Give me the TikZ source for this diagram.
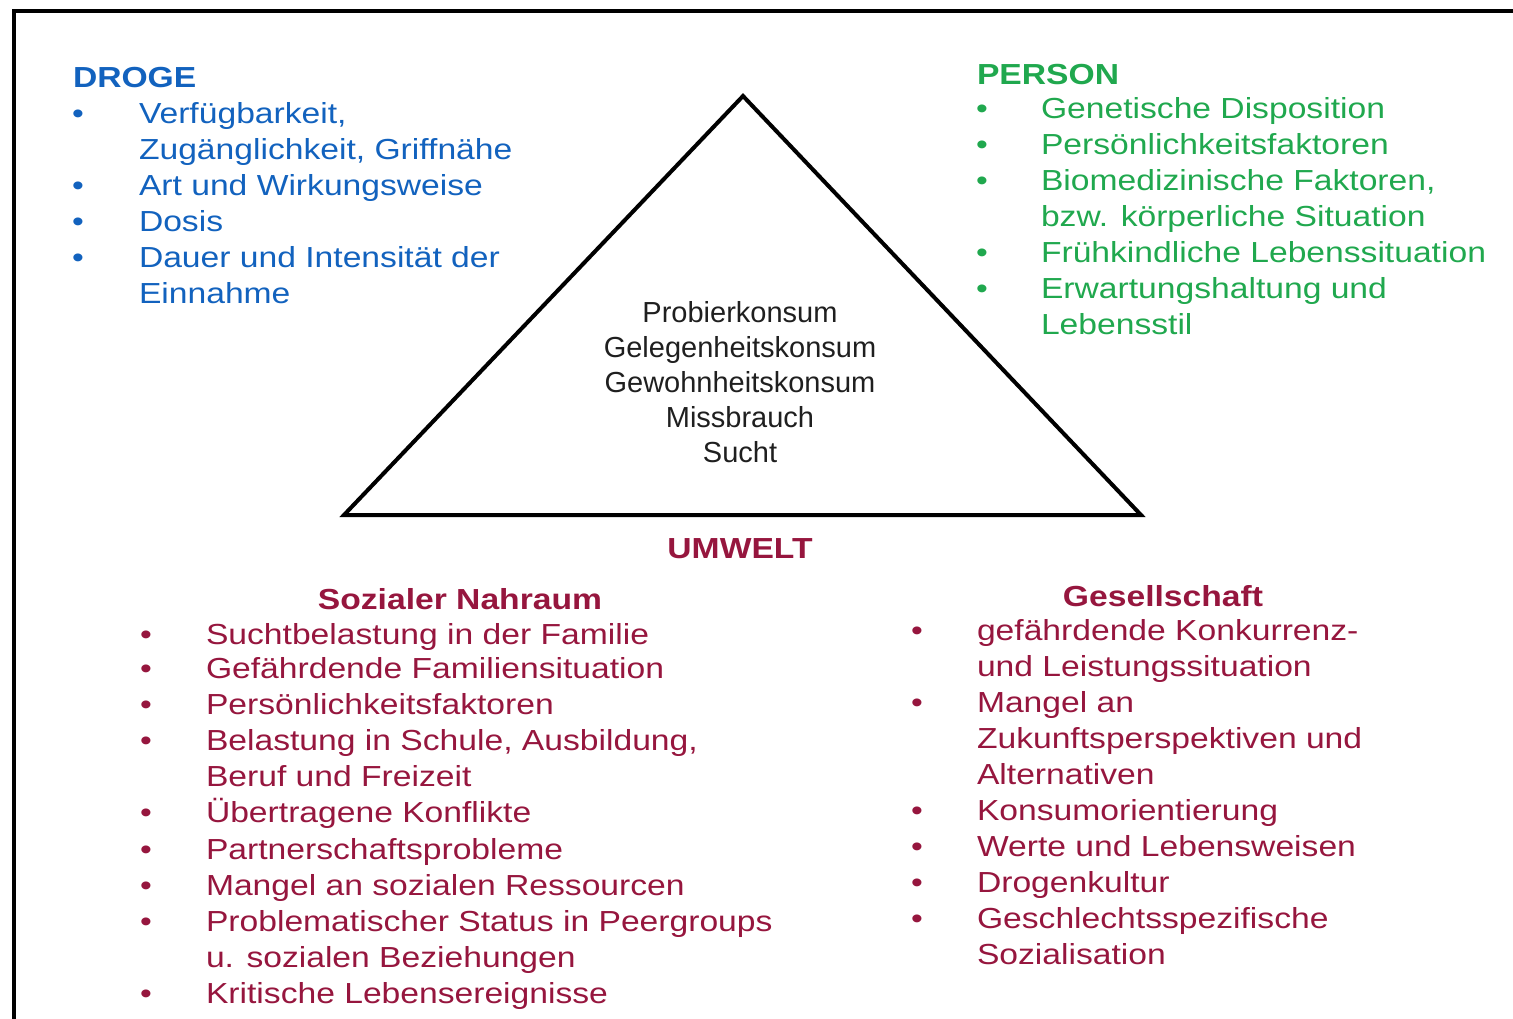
\documentclass[tikz,border=0pt]{standalone}
\usepackage{fontspec}
\setmainfont{Liberation Sans}
\newfontfamily\itemfamily{Liberation Sans}[FakeStretch=1.16]
\newcommand\itemfont{\itemfamily\fontsize{29}{36}\selectfont}
\newcommand\headfont{\itemfamily\bfseries\fontsize{29}{36}\selectfont}
\newcommand\midfont{\rmfamily\fontsize{29}{35}\selectfont}
\definecolor{drogeblue}{RGB}{18,98,190}
\definecolor{persongreen}{RGB}{32,168,78}
\definecolor{umweltred}{RGB}{150,22,62}
\tikzset{
  txt/.style={inner sep=0pt, outer sep=0pt, anchor=base west, font=\itemfont},
  bul/.style={inner sep=0pt, outer sep=0pt, anchor=base, font=\itemfont},
  hdw/.style={inner sep=0pt, outer sep=0pt, anchor=base west, font=\headfont},
  hdc/.style={inner sep=0pt, outer sep=0pt, anchor=base, font=\headfont},
  mid/.style={inner sep=0pt, outer sep=0pt, anchor=base, font=\midfont, text=black!88},
  frame/.style={line width=4pt, draw=black},
  tri/.style={line width=4pt, draw=black, line join=miter},
}
\begin{document}
\begin{tikzpicture}[x=1pt, y=-1pt]
\useasboundingbox (0,0) rectangle (1513,1018);
\clip (0,0) rectangle (1513,1018);
% frame
\coordinate (ftl) at (13.5,11);
\coordinate (fbr) at (1540,1045);
\draw[frame] (ftl) rectangle (fbr);
% triangle
\coordinate (apex) at (743,96);
\coordinate (bl) at (344,515);
\coordinate (br) at (1141,515);
\draw[tri] (apex) -- (bl) -- (br) -- cycle;

% DROGE
\begin{scope}[every node/.append style={text=drogeblue}]
\node[hdw] (dh) at (73,87) {DROGE};
\node[bul] (db1) at (78,123) {•};
\node[txt] (dt1) at (139,123) {Verfügbarkeit,};
\node[txt] (dt1b) at (139,159) {Zugänglichkeit, Griffnähe};
\node[bul] (db2) at (78,195) {•};
\node[txt] (dt2) at (139,195) {Art und Wirkungsweise};
\node[bul] (db3) at (78,231) {•};
\node[txt] (dt3) at (139,231) {Dosis};
\node[bul] (db4) at (78,267) {•};
\node[txt] (dt4) at (139,267) {Dauer und Intensität der};
\node[txt] (dt4b) at (139,303) {Einnahme};
\end{scope}

% PERSON
\begin{scope}[every node/.append style={text=persongreen}]
\node[hdw] (ph) at (977,84) {PERSON};
\node[bul] (pb1) at (982,118) {•};
\node[txt] (pt1) at (1041,118) {Genetische Disposition};
\node[bul] (pb2) at (982,154) {•};
\node[txt] (pt2) at (1041,154) {Persönlichkeitsfaktoren};
\node[bul] (pb3) at (982,190) {•};
\node[txt] (pt3) at (1041,190) {Biomedizinische Faktoren,};
\node[txt] (pt3b) at (1041,226) {bzw. körperliche Situation};
\node[bul] (pb4) at (982,262) {•};
\node[txt] (pt4) at (1041,262) {Frühkindliche Lebenssituation};
\node[bul] (pb5) at (982,298) {•};
\node[txt] (pt5) at (1041,298) {Erwartungshaltung und};
\node[txt] (pt5b) at (1041,334) {Lebensstil};
\end{scope}

% centre
\node[mid] (m1) at (740,322) {Probierkonsum};
\node[mid] (m2) at (740,357) {Gelegenheitskonsum};
\node[mid] (m3) at (740,392) {Gewohnheitskonsum};
\node[mid] (m4) at (740,427) {Missbrauch};
\node[mid] (m5) at (740,462) {Sucht};

% UMWELT
\begin{scope}[every node/.append style={text=umweltred}]
\node[hdc] (uh) at (740,558) {UMWELT};
\node[hdc] (sh) at (460,609) {Sozialer Nahraum};
\node[bul] (sb1) at (146,644) {•};
\node[txt] (st1) at (206,644) {Suchtbelastung in der Familie};
\node[bul] (sb2) at (146,678) {•};
\node[txt] (st2) at (206,678) {Gefährdende Familiensituation};
\node[bul] (sb3) at (146,714) {•};
\node[txt] (st3) at (206,714) {Persönlichkeitsfaktoren};
\node[bul] (sb4) at (146,750) {•};
\node[txt] (st4) at (206,750) {Belastung in Schule, Ausbildung,};
\node[txt] (st4b) at (206,786) {Beruf und Freizeit};
\node[bul] (sb5) at (146,822) {•};
\node[txt] (st5) at (206,822) {Übertragene Konflikte};
\node[bul] (sb6) at (146,859) {•};
\node[txt] (st6) at (206,859) {Partnerschaftsprobleme};
\node[bul] (sb7) at (146,895) {•};
\node[txt] (st7) at (206,895) {Mangel an sozialen Ressourcen};
\node[bul] (sb8) at (146,931) {•};
\node[txt] (st8) at (206,931) {Problematischer Status in Peergroups};
\node[txt] (st8b) at (206,967) {u. sozialen Beziehungen};
\node[bul] (sb9) at (146,1003) {•};
\node[txt] (st9) at (206,1003) {Kritische Lebensereignisse};

\node[hdc] (gh) at (1163,606) {Gesellschaft};
\node[bul] (gb1) at (917,640) {•};
\node[txt] (gt1) at (977,640) {gefährdende Konkurrenz-};
\node[txt] (gt1b) at (977,676) {und Leistungssituation};
\node[bul] (gb2) at (917,712) {•};
\node[txt] (gt2) at (977,712) {Mangel an};
\node[txt] (gt2b) at (977,748) {Zukunftsperspektiven und};
\node[txt] (gt2c) at (977,784) {Alternativen};
\node[bul] (gb3) at (917,820) {•};
\node[txt] (gt3) at (977,820) {Konsumorientierung};
\node[bul] (gb4) at (917,856) {•};
\node[txt] (gt4) at (977,856) {Werte und Lebensweisen};
\node[bul] (gb5) at (917,892) {•};
\node[txt] (gt5) at (977,892) {Drogenkultur};
\node[bul] (gb6) at (917,928) {•};
\node[txt] (gt6) at (977,928) {Geschlechtsspezifische};
\node[txt] (gt6b) at (977,964) {Sozialisation};
\end{scope}
\end{tikzpicture}
\end{document}
